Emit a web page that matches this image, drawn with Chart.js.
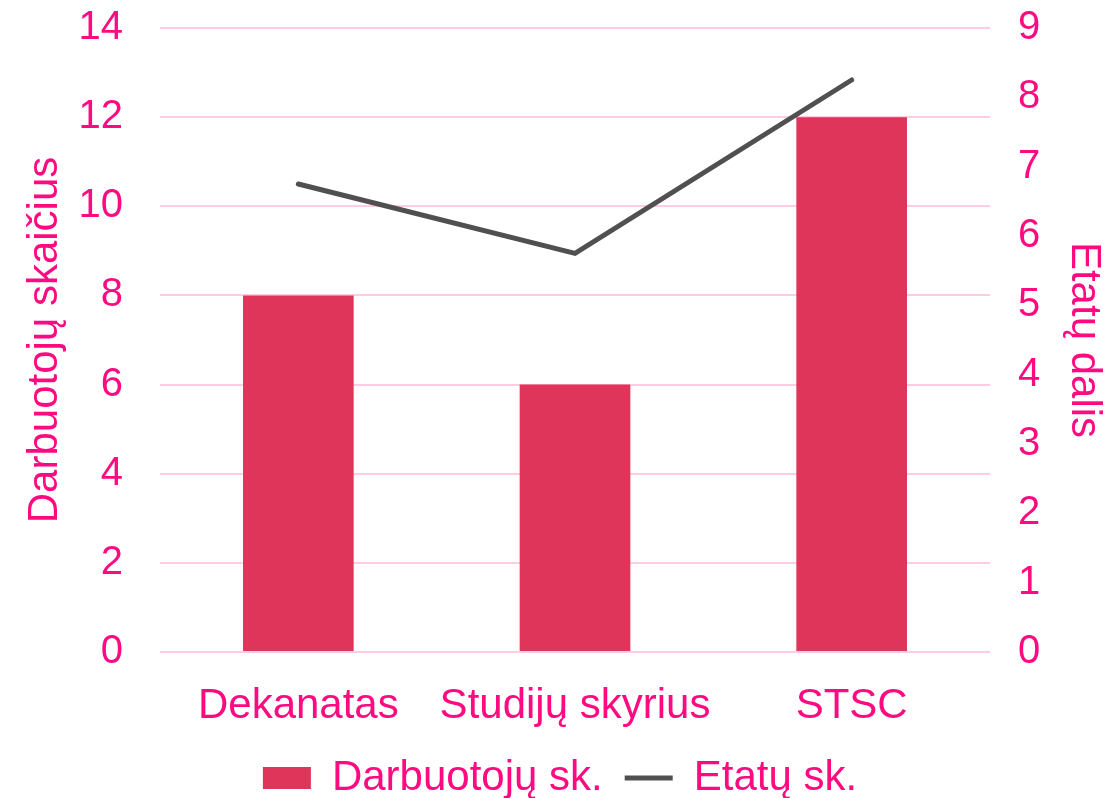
<!DOCTYPE html>
<html>
<head>
<meta charset="utf-8">
<script src="https://cdn.jsdelivr.net/npm/chart.js@4/dist/chart.umd.min.js"></script>
<style>
  html, body { margin: 0; padding: 0; background: #ffffff; }
  #wrap { width: 1120px; height: 798px; }
</style>
</head>
<body>
<div id="wrap"><canvas id="c" width="1120" height="798"></canvas></div>
<script>
const categories = ["Dekanatas", "Studijų skyrius", "STSC"];
const employees = [8, 6, 12];
const positions = [6.75, 5.75, 8.25];
const leftTicks = [0, 2, 4, 6, 8, 10, 12, 14];
const rightTicks = [0, 1, 2, 3, 4, 5, 6, 7, 8, 9];
const seriesNames = ["Darbuotojų sk.", "Etatų sk."];
const axisTitles = ["Darbuotojų skaičius", "Etatų dalis"];

const TEXT = "#FF0A80";
const BAR = "#E0355A";
const LINE = "#505050";
const GRID = "#FFCCE2";
const FONT = "'Liberation Sans', Arial, sans-serif";

Chart.defaults.font.family = FONT;
Chart.defaults.color = TEXT;

new Chart(document.getElementById("c"), {
  data: {
    labels: categories,
    datasets: [
      {
        type: "line",
        label: seriesNames[1],
        data: positions,
        yAxisID: "y1",
        borderColor: LINE,
        backgroundColor: LINE,
        borderWidth: 5,
        borderCapStyle: "round",
        pointRadius: 0,
        pointHoverRadius: 0,
        tension: 0,
        order: 0,
        pointStyle: "line"
      },
      {
        type: "bar",
        label: seriesNames[0],
        data: employees,
        yAxisID: "y",
        backgroundColor: BAR,
        borderWidth: 0,
        categoryPercentage: 1.0,
        barPercentage: 0.4,
        order: 1,
        pointStyle: "rect"
      }
    ]
  },
  options: {
    responsive: false,
    animation: false,
    devicePixelRatio: 1,
    layout: { padding: { top: 28, left: 0, right: 0, bottom: -11 } },
    plugins: {
      tooltip: { enabled: false },
      legend: {
        position: "bottom",
        reverse: true,
        labels: {
          usePointStyle: true,
          pointStyleWidth: 48,
          boxWidth: 48,
          boxHeight: 22,
          padding: 22,
          color: TEXT,
          font: { size: 42, family: FONT }
        }
      }
    },
    scales: {
      x: {
        grid: { display: false },
        border: { display: false },
        ticks: { color: TEXT, font: { size: 42, family: FONT }, padding: 21, maxRotation: 0 },
        afterFit: (s) => { s.height = 83; s.paddingLeft = 0; s.paddingRight = 0; }
      },
      y: {
        position: "left",
        min: 0,
        max: 14,
        afterBuildTicks: (s) => { s.ticks = leftTicks.map(v => ({ value: v })); },
        grid: { color: GRID, lineWidth: 2, drawTicks: false },
        border: { display: false },
        ticks: { color: TEXT, font: { size: 40, family: FONT }, padding: 37 },
        title: { display: true, text: axisTitles[0], color: TEXT, font: { size: 42, family: FONT }, padding: { top: 20, bottom: 0 } },
        afterFit: (s) => { s.width = 160; s.paddingTop = 0; s.paddingBottom = 0; }
      },
      y1: {
        position: "right",
        min: 0,
        max: 9,
        afterBuildTicks: (s) => { s.ticks = rightTicks.map(v => ({ value: v })); },
        grid: { display: false, drawTicks: false },
        border: { display: false },
        ticks: { color: TEXT, font: { size: 40, family: FONT }, padding: 28 },
        title: { display: true, text: axisTitles[1], color: TEXT, font: { size: 42, family: FONT }, padding: { top: 11, bottom: 0 } },
        afterFit: (s) => { s.width = 130; s.paddingTop = 0; s.paddingBottom = 0; }
      }
    }
  }
});
</script>
</body>
</html>
